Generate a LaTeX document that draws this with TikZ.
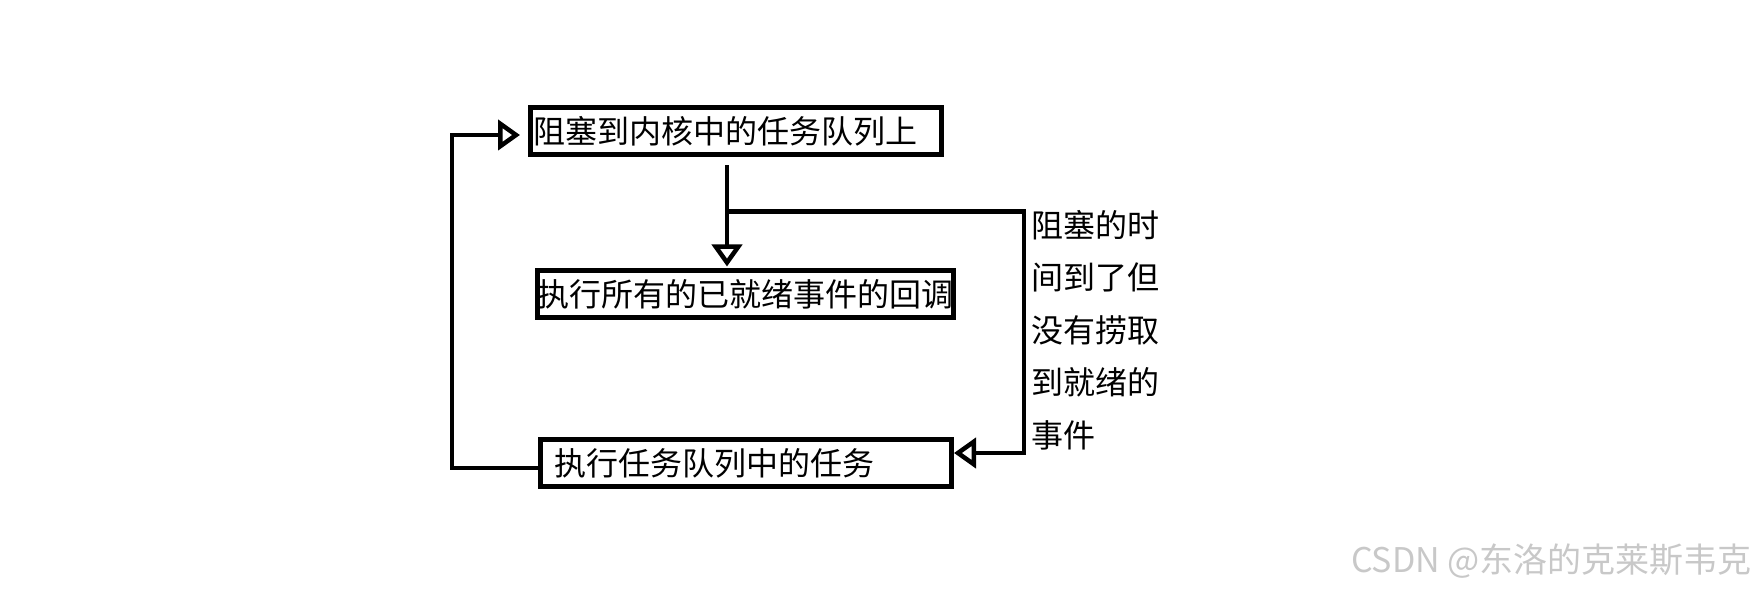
\documentclass[tikz,border=0pt]{standalone}
\usepackage{fontspec}
\usepackage{tikz}
\usetikzlibrary{arrows.meta,positioning,calc}
\newfontfamily\cjk{Noto Sans CJK SC}
\definecolor{wm}{RGB}{200,200,200}

\begin{document}
\begin{tikzpicture}[x=1pt,y=-1pt,node distance=0pt,
  box/.style={draw=black,line width=5pt,minimum height=47pt,inner ysep=0pt,
              font=\cjk\fontsize{32}{32}\selectfont},
  link/.style={draw=black,line width=4.5pt},
  arrow/.style={link,-{Triangle[open,length=22pt,width=30pt,line width=4.5pt]}},
  note/.style={align=left,inner sep=0pt,font=\cjk\fontsize{32}{52.5}\selectfont},
  wmark/.style={inner sep=0pt,text=wm,font=\cjk\fontsize{34}{34}\selectfont}]
  \useasboundingbox (0,0) rectangle (1759,593);
  \node (cb) [box,inner xsep=0pt,minimum width=412pt] at (745.5,294.5) {执行所有的已就绪事件的回调};
  \node (wait) [box,inner xsep=3pt,text width=405pt,align=left,above=111pt of cb,xshift=-9.5pt] {阻塞到内核中的任务队列上};
  \node (exec) [box,inner xsep=14pt,text width=383pt,align=left,below=116.5pt of cb,xshift=0.5pt] {执行任务队列中的任务};
  \coordinate (split) at ($(wait.south)+(-9,54)$);
  % loop back to the top
  \draw[arrow,shorten >=8pt] ([yshift=-5pt]exec.west) -- ++(-86,0) |- ([yshift=-3.5pt]wait.west);
  \draw[arrow,shorten <=8pt,shorten >=2pt] ([xshift=-9pt]wait.south) -- ([xshift=-18.5pt]cb.north);
  % timeout branch
  \draw[arrow] (split) -- ++(297,0) |- ([yshift=10pt]exec.east);
  \node (why) [note,anchor=north west] at (1031,210) {阻塞的时\\间到了但\\没有捞取\\到就绪的\\事件};
  \node (credit) [wmark,anchor=east] at (1752,561) {CSDN @东洛的克莱斯韦克};
\end{tikzpicture}
\end{document}
